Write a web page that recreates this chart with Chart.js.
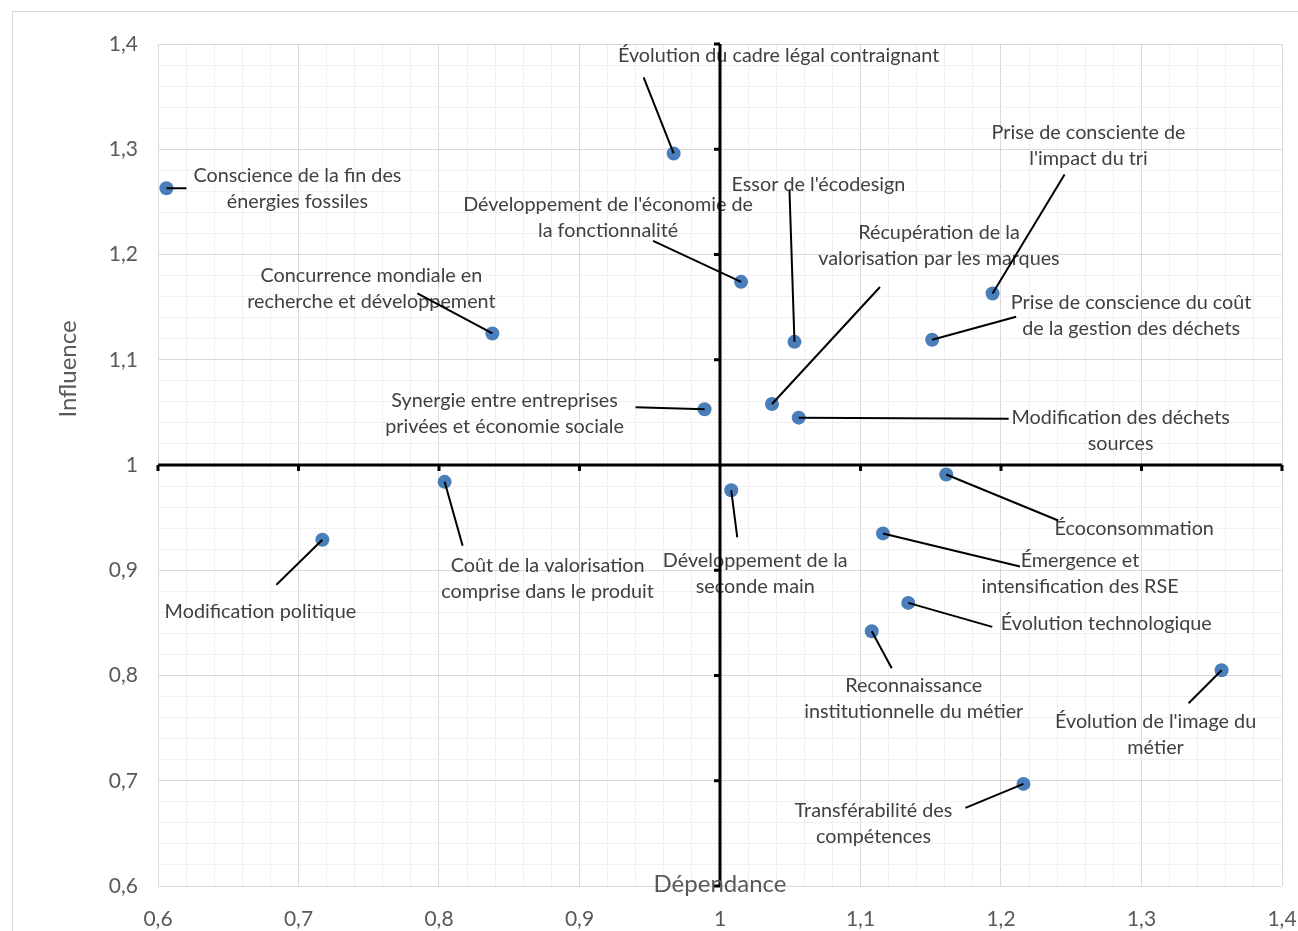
<!DOCTYPE html>
<html lang="fr">
<head>
<meta charset="UTF-8">
<title>Influence / Dépendance</title>
<script src="https://cdn.jsdelivr.net/npm/chart.js"></script>
<style>
  body { margin: 0; background: #fff; }
  #wrap { position: relative; width: 1298px; height: 931px; }
</style>
</head>
<body>
<div id="wrap"><canvas id="matrix"></canvas></div>
<script>
// facteurs et valeurs
const factors = [
  ['Conscience de la fin des', 'énergies fossiles'],
  ['Évolution du cadre légal contraignant'],
  ["Développement de l'économie de", 'la fonctionnalité'],
  ['Concurrence mondiale en', 'recherche et développement'],
  ["Essor de l'écodesign"],
  ['Prise de consciente de', "l'impact du tri"],
  ['Prise de conscience du coût', 'de la gestion des déchets'],
  ['Récupération de la', 'valorisation par les marques'],
  ['Synergie entre entreprises', 'privées et économie sociale'],
  ['Modification des déchets', 'sources'],
  ['Écoconsommation'],
  ['Coût de la valorisation', 'comprise dans le produit'],
  ['Développement de la', 'seconde main'],
  ['Modification politique'],
  ['Émergence et', 'intensification des RSE'],
  ['Évolution technologique'],
  ['Reconnaissance', 'institutionnelle du métier'],
  ["Évolution de l'image du", 'métier'],
  ['Transférabilité des', 'compétences']
];
const dependance = [0.606, 0.967, 1.015, 0.838, 1.053, 1.194, 1.151, 1.037, 0.989, 1.056,
                    1.161, 0.804, 1.008, 0.717, 1.116, 1.134, 1.108, 1.357, 1.216];
const influence  = [1.263, 1.296, 1.174, 1.125, 1.117, 1.163, 1.119, 1.058, 1.053, 1.045,
                    0.991, 0.984, 0.976, 0.929, 0.935, 0.869, 0.842, 0.805, 0.697];
const axisMin = 0.6, axisMax = 1.4, majorStep = 0.1, minorStep = 0.02;

// placement of each label and its leader line, px offsets from the point
const labelOffset = [[131,-13],[105,-98],[-133,-77],[-121,-58],[24,-157],[96,-161],[199,-37],[167,-171],
  [-200,-9],[322,0],[188,54],[103,84],[24,70],[-62,72],[197,27],[198,21],[42,54],[-66,51],[-150,27]];
const leaderEnd = [[20,0],[-30,-76],[-88,-41],[-75,-40],[-5,-152],[72,-119],[84,-23],[108,-117],
  [-69,-2],[210,1],[112,46],[18,64],[6,47],[-46,45],[137,33],[84,24],[20,37],[-33,33],[-58,24]];

const textColor = '#595959';
const labelFont = '19.8px Lato';

function isMajor(v) {
  return Math.abs(v / majorStep - Math.round(v / majorStep)) < 1e-6;
}
function fmt(v) {
  return (Math.round(v * 10) / 10).toString().replace('.', ',');
}

const matrixPlugin = {
  id: 'matrix',
  beforeDraw(chart) {
    const ctx = chart.ctx;
    ctx.save();
    ctx.strokeStyle = '#d9d9d9';
    ctx.lineWidth = 1;
    ctx.strokeRect(12.5, 11.5, 1400, 1000);
    ctx.restore();
  },
  beforeDatasetsDraw(chart) {
    const ctx = chart.ctx, xs = chart.scales.x, ys = chart.scales.y;
    const area = chart.chartArea;
    ctx.save();
    // labels
    ctx.font = labelFont;
    ctx.fillStyle = '#404040';
    ctx.textAlign = 'center';
    ctx.textBaseline = 'middle';
    factors.forEach((lines, i) => {
      const px = xs.getPixelForValue(dependance[i]);
      const py = ys.getPixelForValue(influence[i]);
      lines.forEach((t, k) => {
        ctx.fillText(t, px + labelOffset[i][0], py + labelOffset[i][1] + k * 26);
      });
    });
    // central axes at (1, 1)
    const cx = xs.getPixelForValue(1), cy = ys.getPixelForValue(1);
    ctx.strokeStyle = '#000';
    ctx.lineWidth = 3;
    ctx.beginPath();
    ctx.moveTo(cx, area.top);
    ctx.lineTo(cx, area.bottom);
    ctx.moveTo(area.left, cy);
    ctx.lineTo(area.right, cy);
    for (let v = axisMin; v <= axisMax + 1e-9; v += majorStep) {
      const yp = ys.getPixelForValue(v);
      ctx.moveTo(cx - 6, yp);
      ctx.lineTo(cx, yp);
      const xp = xs.getPixelForValue(v);
      ctx.moveTo(xp, cy);
      ctx.lineTo(xp, cy + 6);
    }
    ctx.stroke();
    ctx.restore();
  },
  afterDatasetsDraw(chart) {
    const ctx = chart.ctx, xs = chart.scales.x, ys = chart.scales.y;
    ctx.save();
    ctx.strokeStyle = '#000';
    ctx.lineWidth = 2;
    ctx.beginPath();
    factors.forEach((lines, i) => {
      const px = xs.getPixelForValue(dependance[i]);
      const py = ys.getPixelForValue(influence[i]);
      ctx.moveTo(px, py);
      ctx.lineTo(px + leaderEnd[i][0], py + leaderEnd[i][1]);
    });
    ctx.stroke();
    // axis titles
    ctx.fillStyle = textColor;
    ctx.font = '24px Lato';
    ctx.textAlign = 'center';
    ctx.textBaseline = 'middle';
    ctx.fillText('Dépendance', xs.getPixelForValue(1), 884);
    ctx.translate(68, 369);
    ctx.rotate(-Math.PI / 2);
    ctx.fillText('Influence', 0, 0);
    ctx.restore();
  }
};

const gridColor = ctx => (ctx.tick && isMajor(ctx.tick.value)) ? '#d9d9d9' : '#f0f0f0';

new Chart(document.getElementById('matrix'), {
  type: 'scatter',
  data: {
    datasets: [{
      label: 'Facteurs',
      data: dependance.map((x, i) => ({ x: x, y: influence[i] })),
      backgroundColor: '#4a7ebb',
      borderWidth: 0,
      pointRadius: 7,
      pointHoverRadius: 7
    }]
  },
  options: {
    responsive: true,
    maintainAspectRatio: false,
    animation: false,
    layout: { padding: { top: 44, right: 16, left: 0, bottom: 0 } },
    plugins: { legend: { display: false }, tooltip: { enabled: false } },
    scales: {
      x: {
        type: 'linear',
        min: axisMin, max: axisMax,
        afterFit: s => { s.height = 45; s.paddingLeft = 0; s.paddingRight = 0; },
        border: { display: false },
        grid: { color: gridColor, lineWidth: 1, drawTicks: false },
        ticks: {
          stepSize: minorStep, autoSkip: false, maxRotation: 0, padding: 21,
          color: textColor, font: { family: 'Lato', size: 21 },
          callback: v => isMajor(v) ? fmt(v) : ''
        }
      },
      y: {
        type: 'linear',
        min: axisMin, max: axisMax,
        afterFit: s => { s.width = 158; s.paddingTop = 0; s.paddingBottom = 0; },
        border: { display: false },
        grid: { color: gridColor, lineWidth: 1, drawTicks: false },
        ticks: {
          stepSize: minorStep, autoSkip: false, padding: 20,
          color: textColor, font: { family: 'Lato', size: 21 },
          callback: v => isMajor(v) ? fmt(v) : ''
        }
      }
    }
  },
  plugins: [matrixPlugin]
});
</script>
</body>
</html>
